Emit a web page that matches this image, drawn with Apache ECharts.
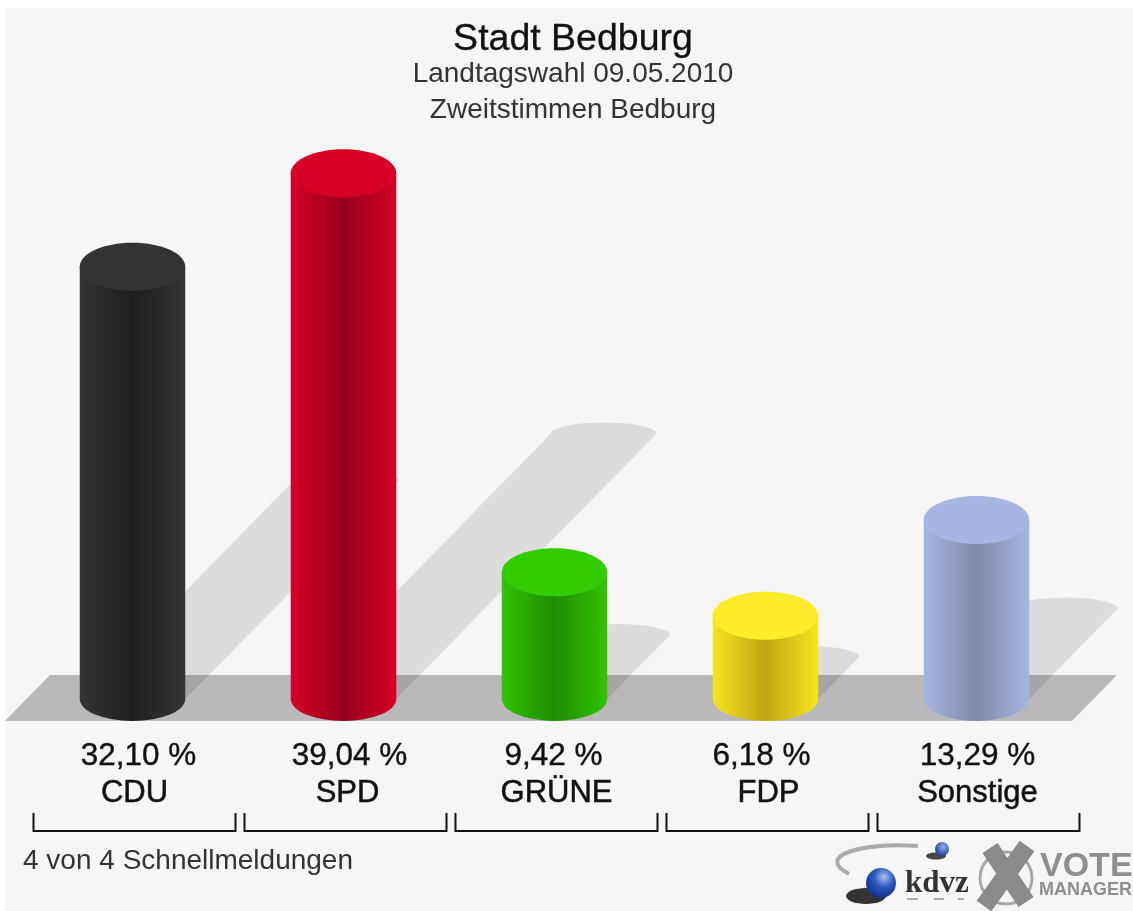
<!DOCTYPE html>
<html>
<head>
<meta charset="utf-8">
<title>Stadt Bedburg</title>
<script src="https://cdn.jsdelivr.net/npm/echarts@6/dist/echarts.min.js"></script>
<style>
html,body{margin:0;padding:0;background:#fff;}
/* the source picture is a soft, upscaled image */
#main{width:1133px;height:911px;filter:blur(0.6px);}
</style>
</head>
<body>
<div id="main"></div>
<script>
var categories = ['CDU', 'SPD', 'GRÜNE', 'FDP', 'Sonstige'];
var percentValues = [32.10, 39.04, 9.42, 6.18, 13.29];
var topColors = ['#333333', '#d60027', '#33cc00', '#fcec2a', '#a6b6e2'];
var edgeColors = ['#343434', '#d60028', '#33c400', '#f6e520', '#a6b6e0'];
var darkColors = ['#1e1e1e', '#95001a', '#1f8c00', '#bfa612', '#7c8aa8'];
var FONT = '"Liberation Sans", Arial, sans-serif';

// label offsets from the bar centre, the source image is not quite centred
var valueShift = [6, 6, -1, -4, 1];
var nameShift = [2, 4, 2, 3, 1];

var RY = 24;

function barData() {
    return percentValues.map(function (v, i) { return [i, v]; });
}

function renderShadow(params, api) {
    var i = api.value(0);
    var top = api.coord([i, api.value(1)]);
    var base = api.coord([i, 0]);
    var rx = api.size([1, 0])[0] * 0.25;
    var h = base[1] - top[1];
    var cx = top[0] + h * 0.495;
    var cy = base[1] - h * 0.505;
    var path = 'M' + (base[0] - rx) + ' ' + base[1] +
        ' L' + (cx - rx) + ' ' + cy +
        ' A' + rx + ' 11 0 0 1 ' + (cx + rx) + ' ' + cy +
        ' L' + (base[0] + rx) + ' ' + base[1] + ' Z';
    return {
        type: 'path',
        shape: {pathData: path},
        style: {fill: 'rgba(0,0,0,0.105)'}
    };
}

function renderCylinder(params, api) {
    var i = api.value(0);
    var top = api.coord([i, api.value(1)]);
    var base = api.coord([i, 0]);
    var rx = api.size([1, 0])[0] * 0.25;
    var l = top[0] - rx, r = top[0] + rx;
    var body = 'M' + l + ' ' + top[1] + ' L' + r + ' ' + top[1] +
        ' L' + r + ' ' + base[1] +
        ' A' + rx + ' 22 0 0 1 ' + l + ' ' + base[1] + ' Z';
    return {
        type: 'group',
        children: [{
            type: 'path',
            shape: {pathData: body},
            style: {
                fill: new echarts.graphic.LinearGradient(0, 0, 1, 0, [
                    {offset: 0, color: edgeColors[i]},
                    {offset: 0.5, color: darkColors[i]},
                    {offset: 1, color: edgeColors[i]}
                ])
            }
        }, {
            type: 'ellipse',
            shape: {cx: top[0], cy: top[1], rx: rx, ry: RY},
            style: {fill: topColors[i]}
        }]
    };
}

function renderLabels(params, api) {
    var i = api.value(0);
    var base = api.coord([i, 0]);
    var x = base[0];
    var txt = api.value(1).toFixed(2).replace('.', ',') + ' %';
    return {
        type: 'group',
        children: [{
            type: 'text',
            style: {
                x: x + valueShift[i], y: 756, text: txt,
                font: '31.5px ' + FONT, fill: '#111',
                stroke: '#111', lineWidth: 0.4,
                align: 'center', verticalAlign: 'middle'
            }
        }, {
            type: 'text',
            style: {
                x: x + nameShift[i], y: 793, text: categories[i],
                font: '31px ' + FONT, fill: '#111',
                stroke: '#111', lineWidth: 0.5,
                align: 'center', verticalAlign: 'middle'
            }
        }, {
            type: 'polyline',
            shape: {points: [[x - 99, 813], [x - 99, 831], [x + 103, 831], [x + 103, 813]]},
            style: {stroke: '#111', lineWidth: 2, fill: null}
        }]
    };
}

var myChart = echarts.init(document.getElementById('main'), null, {renderer: 'canvas'});

var option = {
    backgroundColor: '#ffffff',
    animation: false,
    title: {
        text: 'Stadt Bedburg',
        subtext: 'Landtagswahl 09.05.2010\nZweitstimmen Bedburg',
        left: 568,
        top: 16,
        textAlign: 'center',
        itemGap: -3,
        textStyle: {fontFamily: FONT, fontSize: 37.5, fontWeight: 'normal', color: '#111', textBorderColor: '#111', textBorderWidth: 0.3},
        subtextStyle: {fontFamily: FONT, fontSize: 28, color: '#333', lineHeight: 36}
    },
    grid: {left: 27, width: 1055, top: 93, bottom: 212},
    xAxis: {type: 'category', data: categories, show: false},
    yAxis: {type: 'value', min: 0, max: 45, show: false},
    graphic: [
        {type: 'rect', z: -10, shape: {x: 5, y: 8, width: 1128, height: 903}, style: {fill: '#f6f6f6'}},
        {type: 'polygon', z: -9, shape: {points: [[5, 721], [1072, 721], [1117, 675], [50, 675]]}, style: {fill: '#b9b9b9'}},
        {type: 'text', style: {x: 23, y: 861, text: '4 von 4 Schnellmeldungen', font: '28px ' + FONT, fill: '#333', verticalAlign: 'middle'}},

        // kdvz logo
        {type: 'bezierCurve', shape: {x1: 918, y1: 846, x2: 849, y2: 874, cpx1: 860, cpy1: 842, cpx2: 815, cpy2: 856}, style: {stroke: '#aaaaaa', lineWidth: 4, fill: null}},
        {type: 'ellipse', shape: {cx: 936, cy: 856, rx: 10, ry: 3.5}, style: {fill: '#444'}},
        {type: 'circle', shape: {cx: 942, cy: 849, r: 7}, style: {fill: new echarts.graphic.RadialGradient(0.6, 0.35, 0.7, [{offset: 0, color: '#8fb0e8'}, {offset: 1, color: '#123a90'}])}},
        {type: 'ellipse', shape: {cx: 866, cy: 896, rx: 20, ry: 8}, style: {fill: '#333'}},
        {type: 'circle', shape: {cx: 881, cy: 883, r: 15}, style: {fill: new echarts.graphic.RadialGradient(0.6, 0.3, 0.75, [{offset: 0, color: '#a8c0ee'}, {offset: 0.45, color: '#2a58c0'}, {offset: 1, color: '#102c80'}])}},
        {type: 'text', style: {x: 905, y: 884, text: 'kdvz', font: 'bold 31px "Liberation Serif", serif', fill: '#333', verticalAlign: 'middle'}},
        {type: 'line', shape: {x1: 907, y1: 899, x2: 918, y2: 899}, style: {stroke: '#aaaaaa', lineWidth: 2}},
        {type: 'line', shape: {x1: 934, y1: 899, x2: 944, y2: 899}, style: {stroke: '#aaaaaa', lineWidth: 2}},
        {type: 'line', shape: {x1: 958, y1: 899, x2: 964, y2: 899}, style: {stroke: '#aaaaaa', lineWidth: 2}},

        // vote manager logo
        {type: 'circle', shape: {cx: 1006, cy: 878, r: 26}, style: {fill: null, stroke: '#a8a8a8', lineWidth: 3}},
        {type: 'line', shape: {x1: 990, y1: 848, x2: 1026, y2: 902}, style: {stroke: '#8a8a8a', lineWidth: 18}},
        {type: 'line', shape: {x1: 1027, y1: 846, x2: 984, y2: 906}, style: {stroke: '#8a8a8a', lineWidth: 18}},
        {type: 'text', style: {x: 1040, y: 867, text: 'VOTE', font: 'bold 34px ' + FONT, fill: '#8e8e8e', verticalAlign: 'middle'}},
        {type: 'text', style: {x: 1039, y: 890, text: 'MANAGER', font: 'bold 18px ' + FONT, fill: '#8e8e8e', verticalAlign: 'middle'}}
    ],
    series: [
        {type: 'custom', name: 'Schatten', z: 1, data: barData(), renderItem: renderShadow, clip: false, silent: true},
        {type: 'custom', name: 'Zweitstimmen', z: 2, data: barData(), renderItem: renderCylinder, clip: false},
        {type: 'custom', name: 'Beschriftung', z: 3, data: barData(), renderItem: renderLabels, clip: false, silent: true}
    ]
};

myChart.setOption(option);
</script>
</body>
</html>
